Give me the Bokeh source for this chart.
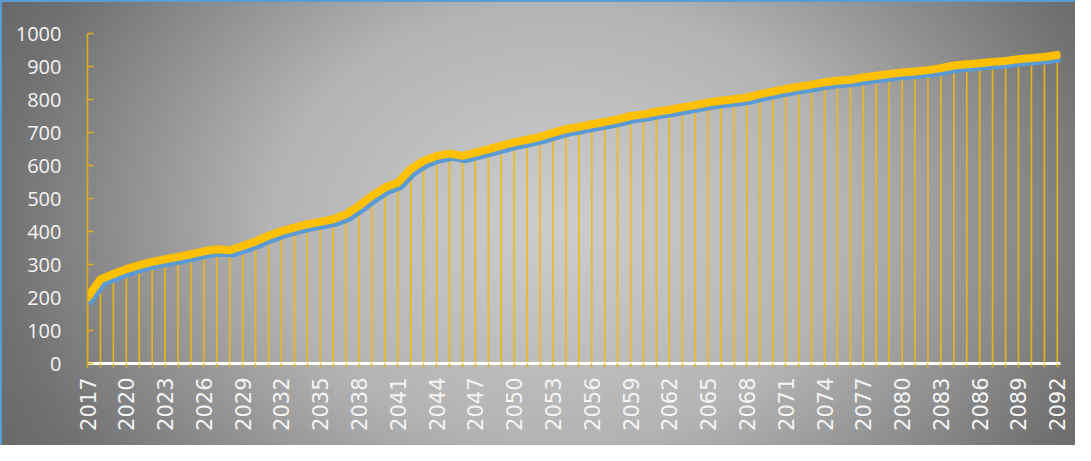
from bokeh.plotting import figure
from bokeh.models import Range1d, FixedTicker, SingleIntervalTicker, ColumnDataSource, CustomJSTickFormatter
from bokeh.transform import dodge
from bokeh.embed import file_html
from bokeh.resources import INLINE

years = list(range(2017, 2093))
values = [200, 255, 271, 286, 298, 308, 316, 323, 331, 340,
          346, 343, 356, 370, 387, 401, 412, 422, 429, 437,
          452, 478, 508, 533, 548, 589, 614, 629, 636, 629,
          639, 649, 660, 670, 678, 687, 699, 710, 717, 725,
          732, 740, 750, 755, 763, 769, 776, 783, 791, 796,
          801, 806, 816, 824, 832, 839, 845, 852, 857, 860,
          867, 872, 877, 882, 885, 889, 895, 903, 907, 910,
          914, 917, 922, 926, 929, 935]
zeros = [0] * len(years)
label_step = 3

src = ColumnDataSource(dict(year=years, value=values, zero=zeros))

p = figure(width=1075, height=445,
           x_range=Range1d(2017, 2092.25), y_range=Range1d(0, 1000),
           output_backend="svg", toolbar_location=None,
           min_border_left=87, min_border_top=33,
           min_border_right=15, min_border_bottom=82)

p.styles = {
    "background-image": "radial-gradient(ellipse 60% 110% at 52% 50%, #cdcdcd 0%, #b3b3b3 45%, #717171 87%, #666666 100%)",
    "box-shadow": "inset 2px 2px 0 0 #5B9BD5",
}
p.background_fill_alpha = 0
p.border_fill_alpha = 0
p.outline_line_color = None
p.xgrid.visible = False
p.ygrid.visible = False

# drop lines
p.segment(x0="year", y0="zero", x1="year", y1="value", source=src,
          line_color="#F2B80C", line_width=1.7, line_alpha=0.85)

# shadow-like blue line
p.line(x=dodge("year", 0.25), y=dodge("value", -13), source=src,
       line_color="#5B9BD5", line_width=6, line_join="round", line_cap="round")
# main yellow line
p.line(x="year", y="value", source=src,
       line_color="#FFC000", line_width=8, line_join="round", line_cap="round")

# y axis
ya = p.yaxis[0]
ya.ticker = SingleIntervalTicker(interval=100)
ya.axis_line_color = "#E0AE1A"
ya.axis_line_width = 1.5
ya.major_tick_line_color = "#E0AE1A"
ya.major_tick_line_width = 1.5
ya.major_tick_in = 6
ya.major_tick_out = 0
ya.minor_tick_line_color = None
ya.major_label_text_color = "#F4F4F4"
ya.major_label_text_font = "Open Sans"
ya.major_label_text_font_size = "20px"
ya.major_label_standoff = 22

# x axis: a tick every year, a label every third year
xa = p.xaxis[0]
xa.ticker = FixedTicker(ticks=years)
xa.formatter = CustomJSTickFormatter(
    args=dict(start=years[0], step=label_step),
    code="return ((Math.round(tick) - start) % step === 0) ? Math.round(tick).toString() : '';")
xa.axis_line_color = "#FFFFFF"
xa.axis_line_width = 3
xa.major_tick_line_color = "#E0AE1A"
xa.major_tick_line_width = 1.5
xa.major_tick_in = 0
xa.major_tick_out = 4
xa.minor_tick_line_color = None
xa.major_label_orientation = 1.5708
xa.major_label_text_color = "#F4F4F4"
xa.major_label_text_font = "DejaVu Sans"
xa.major_label_text_font_size = "21px"
xa.major_label_standoff = 10

open("out.html", "w").write(file_html(p, INLINE))
